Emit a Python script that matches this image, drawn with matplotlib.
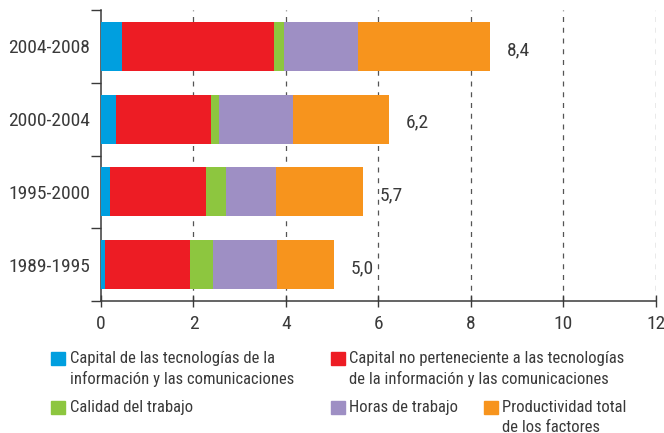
import matplotlib
matplotlib.use("Agg")
import matplotlib.pyplot as plt
from matplotlib.patches import Rectangle

plt.rcParams['font.family'] = ['Roboto Condensed', 'Archivo Narrow', 'Asap Condensed', 'DejaVu Sans']

periods = ["1989-1995", "1995-2000", "2000-2004", "2004-2008"]
tic_capital = [0.09, 0.19, 0.32, 0.46]
non_tic_capital = [1.83, 2.08, 2.06, 3.28]
labour_quality = [0.51, 0.43, 0.18, 0.21]
hours = [1.38, 1.08, 1.60, 1.61]
tfp = [1.23, 1.89, 2.07, 2.86]
totals = ["5,0", "5,7", "6,2", "8,4"]
series_names = [
    "Capital de las tecnologías de la\ninformación y las comunicaciones",
    "Capital no perteneciente a las tecnologías\nde la información y las comunicaciones",
    "Calidad del trabajo",
    "Horas de trabajo",
    "Productividad total\nde los factores",
]
colors = ["#009FDF", "#ED1C24", "#8DC63F", "#9E8FC4", "#F7941D"]
text_color = "#3a3a3a"

fig = plt.figure(figsize=(6.64, 4.33), dpi=100)
ax = fig.add_axes([0.1521, 0.3048, 0.9875 - 0.1521, 0.9769 - 0.3048])

series = [tic_capital, non_tic_capital, labour_quality, hours, tfp]
y = list(range(len(periods)))
left = [0.0] * len(periods)
for vals, c in zip(series, colors):
    ax.barh(y, vals, left=left, height=0.675, color=c, zorder=3)
    left = [l + v for l, v in zip(left, vals)]

for yi, l, t in zip(y, left, totals):
    ax.text(l + 0.36, yi - 0.05, t, va="center", ha="left", fontsize=14, color=text_color)

ax.set_xlim(0, 12)
ax.set_ylim(-0.5, 3.5)
ax.set_xticks(range(0, 13, 2))
ax.set_xticklabels([str(v) for v in range(0, 13, 2)], fontsize=14, color=text_color)
ax.set_yticks(y)
ax.set_yticklabels(periods, fontsize=14, color=text_color)
ax.tick_params(axis="y", length=0, pad=8)
ax.tick_params(axis="x", direction="inout", length=8, width=1, color="#3a3a3a", pad=6)
ax.set_yticks([-0.5, 0.5, 1.5, 2.5, 3.5], minor=True)
ax.tick_params(axis="y", which="minor", length=7, width=1, color="#3a3a3a")

for xv in range(2, 13, 2):
    ax.axvline(xv, color="#555555", lw=0.9, linestyle=(0, (4, 4.6)), zorder=1)

for s in ["top", "right"]:
    ax.spines[s].set_visible(False)
for s in ["left", "bottom"]:
    ax.spines[s].set_color("#3a3a3a")
    ax.spines[s].set_linewidth(1.1)

# legend (manual)
W, H = 664.0, 433.0
legend_items = [
    (51, 352, 70, series_names[0]),
    (331, 352, 349, series_names[1]),
    (51, 401, 70, series_names[2]),
    (331, 401, 349, series_names[3]),
    (484, 401, 502, series_names[4]),
]
for (sx, sy, tx, label), c in zip(legend_items, colors):
    fig.patches.append(Rectangle((sx / W, 1 - (sy + 13) / H), 14 / W, 13 / H,
                                 transform=fig.transFigure, color=c))
    fig.text(tx / W, 1 - (sy - 1) / H, label, ha="left", va="top", fontsize=12,
             color=text_color, linespacing=1.38)

fig.savefig("out.png", dpi=100)
